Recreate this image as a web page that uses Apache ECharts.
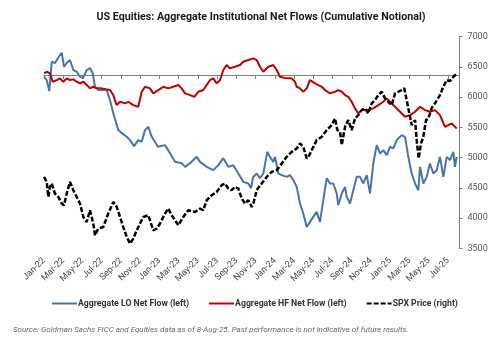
<!DOCTYPE html>
<html><head><meta charset="utf-8">
<script src="https://cdn.jsdelivr.net/npm/echarts@6/dist/echarts.min.js"></script>
<style>html,body{margin:0;padding:0;background:#fff}#c{width:500px;height:345px}</style>
</head><body><div id="c"></div>
<script>
// x = months since 1-Jan-2022
const xTickLabels = ['Jan-22','Mar-22','May-22','Jul-22','Sep-22','Nov-22','Jan-23','Mar-23','May-23','Jul-23','Sep-23','Nov-23','Jan-24','Mar-24','May-24','Jul-24','Sep-24','Nov-24','Jan-25','Mar-25','May-25','Jul-25'];
const rightTicks = [3500,4000,4500,5000,5500,6000,6500,7000];
const seriesNames = ['Aggregate LO Net Flow (left)','Aggregate HF Net Flow (left)','SPX Price (right)'];

// Aggregate LO net flow (cumulative, left axis units)
const loFlow = [[0,-0.45],[0.28,-1.31],[0.55,-4.17],[0.8,3.45],[1.14,3.11],[1.46,4.41],[1.84,5.79],[2.08,2.15],[2.36,3.11],[2.7,3.89],[3.05,1.29],[3.4,0.85],[3.74,-0.45],[4.05,-0.79],[4.44,1.29],[4.78,1.81],[5.06,0.51],[5.3,-3.05],[5.64,-3.91],[6.16,-3.91],[6.52,-3.91],[6.86,-6.51],[7.2,-9.89],[7.72,-14.31],[8.08,-15.09],[8.6,-16.05],[8.94,-16.91],[9.36,-18.47],[9.8,-16.91],[10.16,-17.35],[10.5,-14.31],[10.84,-13.45],[11.2,-16.05],[11.85,-18.65],[12.58,-18.21],[13.1,-20.29],[13.62,-22.55],[14.31,-22.89],[14.66,-23.85],[15.18,-22.89],[15.87,-21.25],[16.22,-22.55],[16.91,-23.85],[17.6,-24.71],[18.12,-23.41],[18.64,-21.59],[19.16,-23.85],[19.68,-23.41],[20.2,-25.57],[20.72,-27.75],[21.24,-28.17],[21.52,-29.39],[21.73,-26.53],[22.11,-25.57],[22.45,-26.79],[22.8,-25.57],[23.21,-19.95],[23.49,-21.25],[23.84,-22.55],[24.01,-21.25],[24.36,-25.57],[24.71,-26.01],[25.23,-26.45],[25.57,-26.01],[25.92,-27.31],[26.27,-29.05],[26.61,-33.37],[26.95,-35.97],[27.31,-39.45],[27.65,-38.15],[27.99,-36.85],[28.34,-35.55],[28.69,-38.15],[29.03,-32.51],[29.39,-26.79],[29.73,-28.17],[30.07,-28.17],[30.43,-30.77],[30.59,-33.81],[30.95,-30.77],[31.29,-29.05],[31.47,-31.65],[31.81,-33.37],[32.15,-29.91],[32.51,-26.45],[32.85,-26.45],[33.19,-28.17],[33.55,-26.01],[33.89,-30.77],[34.23,-22.97],[34.58,-18.21],[34.93,-20.37],[35.27,-19.51],[35.62,-20.81],[35.97,-18.65],[36.31,-19.07],[36.66,-16.91],[37.18,-15.61],[37.53,-16.05],[37.87,-21.25],[38.22,-25.57],[38.57,-28.17],[38.91,-29.91],[39.09,-23.85],[39.43,-28.17],[39.78,-26.45],[40.12,-22.97],[40.47,-25.57],[40.82,-24.71],[41.16,-21.25],[41.51,-26.45],[41.86,-21.25],[42.2,-22.11],[42.55,-19.95],[42.72,-23.85],[42.9,-21.25]];

// Aggregate HF net flow (cumulative, left axis units)
const hfFlow = [[0,0.43],[0.28,0.85],[0.62,0.43],[0.9,-1.75],[1.32,-1.31],[1.66,-0.87],[2.01,-1.75],[2.36,-0.87],[2.7,-1.31],[3.05,-1.13],[3.4,-1.75],[3.74,-2.17],[4.09,-1.75],[4.44,-2.61],[4.78,-3.47],[5.12,-3.05],[5.48,-3.47],[6.0,-3.47],[6.52,-3.73],[6.86,-3.91],[7.2,-5.21],[7.56,-7.81],[7.9,-6.95],[8.42,-7.37],[8.76,-6.95],[9.28,-7.81],[9.8,-8.25],[10.16,-4.35],[10.5,-3.05],[11.02,-3.47],[11.36,-4.77],[11.88,-3.91],[12.4,-3.05],[12.92,-3.47],[13.44,-3.05],[13.96,-2.61],[14.31,-3.47],[14.66,-4.77],[15.18,-5.21],[15.62,-5.65],[16.04,-4.35],[16.56,-3.91],[16.91,-2.61],[17.26,-1.31],[17.6,-0.87],[17.95,-2.17],[18.3,-1.31],[18.64,1.29],[18.99,2.59],[19.33,1.73],[19.85,2.15],[20.37,2.59],[20.72,3.45],[21.24,3.89],[21.76,4.33],[22.11,3.89],[22.45,2.15],[22.8,0.85],[23.32,2.15],[23.84,2.59],[24.19,1.29],[24.53,-0.45],[25.23,-0.87],[25.75,-0.87],[26.09,-1.75],[26.27,-3.05],[26.61,-3.47],[26.95,-4.35],[27.31,-3.47],[27.65,-1.31],[28.17,-2.17],[28.51,-2.61],[28.87,-3.05],[29.21,-3.91],[29.73,-4.77],[30.25,-4.35],[30.59,-3.91],[30.95,-4.35],[31.29,-5.21],[31.63,-5.65],[31.98,-6.95],[32.33,-8.67],[32.67,-9.97],[33.02,-9.11],[33.71,-9.11],[34.23,-8.67],[34.75,-7.81],[35.27,-6.95],[35.62,-6.07],[35.97,-6.95],[36.49,-8.25],[37.01,-9.55],[37.53,-10.85],[38.05,-10.41],[38.57,-9.55],[39.09,-8.25],[39.61,-9.11],[40.12,-9.55],[40.64,-9.11],[41.16,-10.41],[41.68,-13.45],[42.03,-13.01],[42.38,-12.57],[42.9,-13.87]];

// SPX price (right axis)
const spxPrice = [[0,4680],[0.28,4597],[0.45,4349],[0.62,4514],[0.8,4571],[1.14,4405],[1.49,4349],[1.84,4240],[2.08,4212],[2.36,4405],[2.7,4597],[3.05,4460],[3.4,4349],[3.74,4240],[4.09,4018],[4.44,3935],[4.78,4129],[5.12,3909],[5.3,3715],[5.64,3826],[6.16,3853],[6.68,4074],[7.2,4266],[7.56,4184],[7.9,4018],[8.24,3853],[8.6,3687],[8.94,3578],[9.28,3661],[9.64,3798],[9.98,3909],[10.32,4018],[10.84,4046],[11.02,4013],[11.36,3798],[11.72,3826],[12.06,3909],[12.58,4074],[12.92,4157],[13.27,4046],[13.62,3963],[13.96,3881],[14.48,4018],[15.0,4129],[15.7,4101],[16.22,4157],[16.56,4129],[16.91,4294],[17.43,4377],[17.95,4432],[18.47,4543],[18.81,4571],[19.16,4488],[19.51,4460],[19.85,4514],[20.2,4488],[20.55,4323],[20.89,4240],[21.24,4294],[21.59,4184],[21.76,4240],[22.11,4460],[22.63,4571],[23.15,4680],[23.67,4763],[24.19,4791],[24.71,4902],[25.23,5011],[25.75,5094],[26.27,5150],[26.61,5233],[26.95,5176],[27.31,4984],[27.58,5039],[28.0,5176],[28.34,5287],[28.87,5342],[29.39,5453],[29.91,5536],[30.25,5646],[30.49,5453],[30.77,5425],[30.95,5205],[31.29,5507],[31.63,5618],[31.98,5453],[32.33,5646],[32.67,5701],[33.02,5784],[33.37,5812],[33.71,5729],[34.06,5895],[34.41,5949],[34.75,6032],[35.1,6087],[35.45,5977],[35.79,5921],[36.14,5866],[36.49,6060],[36.83,6087],[37.18,6115],[37.45,6143],[37.7,5949],[38.05,5673],[38.22,5536],[38.57,5618],[38.74,5287],[38.95,4984],[39.19,5233],[39.43,5342],[39.71,5618],[39.95,5646],[40.3,5817],[40.64,5895],[41.16,6032],[41.51,6169],[41.86,6280],[42.2,6264],[42.55,6335],[42.9,6379]];

const X_MAX = 43.19;
const chart = echarts.init(document.getElementById('c'), null, {renderer:'canvas'});
const FONT = 'Roboto, "Liberation Sans", Arial, sans-serif';
const xBase = {type:'value', min:0, max:X_MAX, interval:2, splitLine:{show:false}};
chart.setOption({
  animation:false,
  backgroundColor:'#fff',
  textStyle:{fontFamily:FONT},
  title:[{
    text:'US Equities: Aggregate Institutional Net Flows (Cumulative Notional)',
    left:256, top:7, textAlign:'center',
    textStyle:{fontSize:10.7, fontWeight:'bold', color:'#1a1a1a', fontFamily:FONT}
  },{
    text:'Source: Goldman Sachs FICC and Equities data as of 8-Aug-25. Past performance is not indicative of future results.',
    left:8, top:321,
    textStyle:{fontSize:8, fontStyle:'italic', fontWeight:'normal', color:'#666', fontFamily:FONT}
  }],
  legend:{
    data:seriesNames, left:46, top:294, width:480, itemWidth:25, itemHeight:3, itemGap:19,
    itemStyle:{opacity:0},
    textStyle:{fontSize:8.7, fontWeight:'bold', color:'#333', fontFamily:FONT, padding:[0,0,0,-4]}
  },
  grid:{left:44, right:40.5, top:36.5, bottom:96.7, containLabel:false},
  xAxis:[
    Object.assign({}, xBase, {
      position:'bottom',
      axisLine:{show:true, onZero:true, onZeroAxisIndex:0, lineStyle:{color:'#7f7f7f', width:1}},
      axisTick:{show:true, length:4, lineStyle:{color:'#7f7f7f'}},
      axisLabel:{show:false}
    }),
    Object.assign({}, xBase, {
      position:'bottom',
      axisLine:{show:false, onZero:false},
      axisTick:{show:false},
      axisLabel:{show:true, rotate:45, margin:11, fontSize:9, color:'#444', fontFamily:FONT,
        formatter:function(v){ const i = Math.round(v/2); return xTickLabels[i] || ''; }}
    })
  ],
  yAxis:[{
    type:'value', min:-45, max:10, show:false, splitLine:{show:false}
  },{
    type:'value', position:'right', min:rightTicks[0], max:rightTicks[rightTicks.length-1], interval:500,
    splitLine:{show:false},
    axisLine:{show:true, onZero:false, lineStyle:{color:'#7f7f7f'}},
    axisTick:{show:true, length:3, lineStyle:{color:'#7f7f7f'}},
    axisLabel:{fontSize:9, color:'#555', margin:8, fontFamily:FONT, formatter:function(v){return String(v);}}
  }],
  series:[{
    name:seriesNames[0], type:'line', xAxisIndex:0, yAxisIndex:0, data:loFlow,
    showSymbol:false, symbol:'none', lineStyle:{color:'#4a73a8', width:2}, itemStyle:{color:'#4a73a8'}
  },{
    name:seriesNames[1], type:'line', xAxisIndex:0, yAxisIndex:0, data:hfFlow,
    showSymbol:false, symbol:'none', lineStyle:{color:'#c00000', width:2}, itemStyle:{color:'#c00000'}
  },{
    name:seriesNames[2], type:'line', xAxisIndex:0, yAxisIndex:1, data:spxPrice,
    showSymbol:false, symbol:'none', lineStyle:{color:'#000', width:2.5, type:[5,2]}, itemStyle:{color:'#000'}
  }]
});
</script></body></html>
